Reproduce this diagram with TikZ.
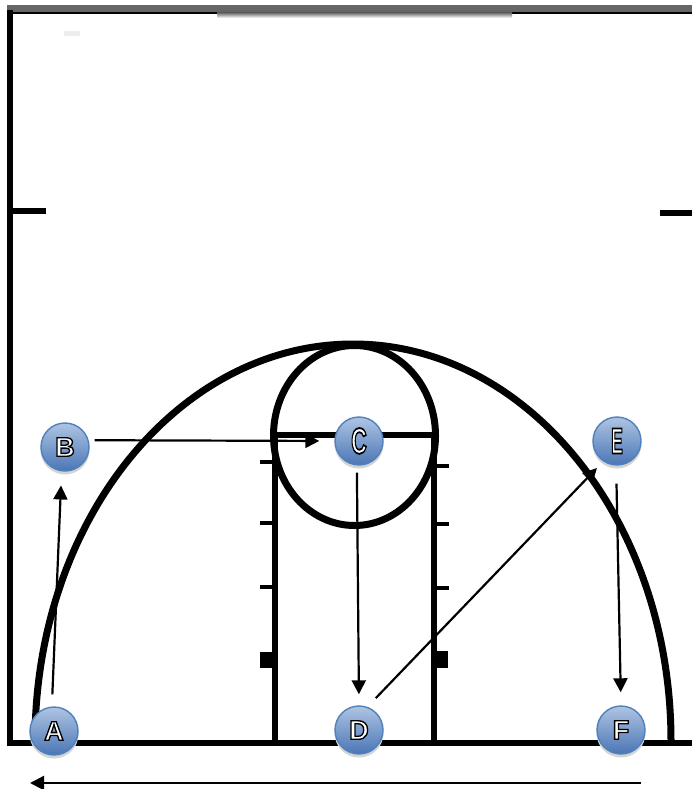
\documentclass[tikz,border=0pt]{standalone}
\usepackage{fontspec}
\setmainfont{Liberation Sans}
\newfontfamily\ballfont[UprightFont=* Bold,FakeBold=5]{Liberation Sans}
\definecolor{balltop}{HTML}{AFC4E2}
\definecolor{ballbot}{HTML}{4A76B6}
\definecolor{ballrim}{HTML}{4F81BD}
\definecolor{ballshade}{HTML}{D4D4D4}
\newcommand{\balllabel}[1]{\special{pdf:bcolor [1] [0]}{\ballfont #1}\special{pdf:ecolor}}
\usetikzlibrary{arrows.meta}
\tikzset{
  courtline/.style={line width=6.5pt,line cap=butt},
  lanemark/.style={line width=5.5pt,line cap=butt},
  hashmark/.style={line width=4pt,line cap=butt},
  ball/.style={circle,minimum size=48pt,inner sep=0pt,draw=ballrim,line width=1.4pt,
    top color=balltop,bottom color=ballbot,font=\fontsize{27pt}{27pt}\selectfont},
  shadeball/.style={circle,minimum size=49pt,inner sep=0pt,fill=ballshade},
  pass/.style={line width=2.2pt,-{Triangle[length=14pt,width=14pt]}},
}
\begin{document}
\begin{tikzpicture}[x=1pt,y=-1pt]
\useasboundingbox[fill=white] (0,0) rectangle (692,789);
% top band
\fill[black!60] (7,5) rectangle (692,12.5);
\draw[line width=1.2pt] (7,13) -- (692,13);
\shade[top color=black!55,bottom color=white] (217,13) rectangle (512,18);
\fill[black!7] (64,31) rectangle (80,36);
% court outline
\draw[courtline] (10,10) -- (10,746);
\draw[courtline] (7,743) -- (692,743);
\draw[courtline] (10,211) -- (46,211);
\draw[courtline] (660,213) -- (692,213);
% three point arc
\draw[line width=7pt] (35,741) arc[start angle=180,end angle=360,x radius=318,y radius=397];
% lane
\draw[lanemark] (275,435) -- (275,743);
\draw[lanemark] (434,435) -- (434,743);
\draw[lanemark] (275,435) -- (434,435);
\draw[line width=7pt] (354.5,435.5) ellipse[x radius=81,y radius=90];
% hash marks
\draw[hashmark] (260,462) -- (275,462);
\draw[hashmark] (260,523) -- (275,523);
\draw[hashmark] (260,587) -- (275,587);
\draw[hashmark] (434,466) -- (449,466);
\draw[hashmark] (434,524) -- (449,524);
\draw[hashmark] (434,588) -- (449,588);
\fill (260,652) rectangle (275,668);
\fill (434,651) rectangle (448,668);
% players
\node[shadeball] (As) at (54,734) {};
\node[shadeball] (Bs) at (65,450) {};
\node[shadeball] (Cs) at (359,444) {};
\node[shadeball] (Ds) at (359,733) {};
\node[shadeball] (Es) at (617,444) {};
\node[shadeball] (Fs) at (621,733) {};
\node[ball] (A) at (54,731) {\balllabel{A}};
\node[ball] (B) at (65,447) {\balllabel{B}};
\node[ball] (C) at (359,441) {\scalebox{.8}[1.35]{\balllabel{C}}};
\node[ball] (D) at (359,730) {\balllabel{D}};
\node[ball] (E) at (617,441) {\scalebox{.65}[1.35]{\balllabel{E}}};
\node[ball] (F) at (621,730) {\balllabel{F}};
% passes
\draw[pass,shorten <=12pt,shorten >=14pt] (A.95) -- (B.262);
\draw[pass,shorten <=6pt,shorten >=15pt] (B.16) -- (C.180);
\draw[pass,shorten <=7pt,shorten >=11pt] (C.265) -- (D.90);
\draw[pass,shorten <=12pt,shorten >=9pt] (D.70) -- (E.236);
\draw[pass,shorten <=18pt,shorten >=13pt] (E.268) -- (F.90);
\coordinate (runstart) at (641,783);
\coordinate (runend) at (30,783);
\draw[pass] (runstart) -- (runend);
\end{tikzpicture}
\end{document}
